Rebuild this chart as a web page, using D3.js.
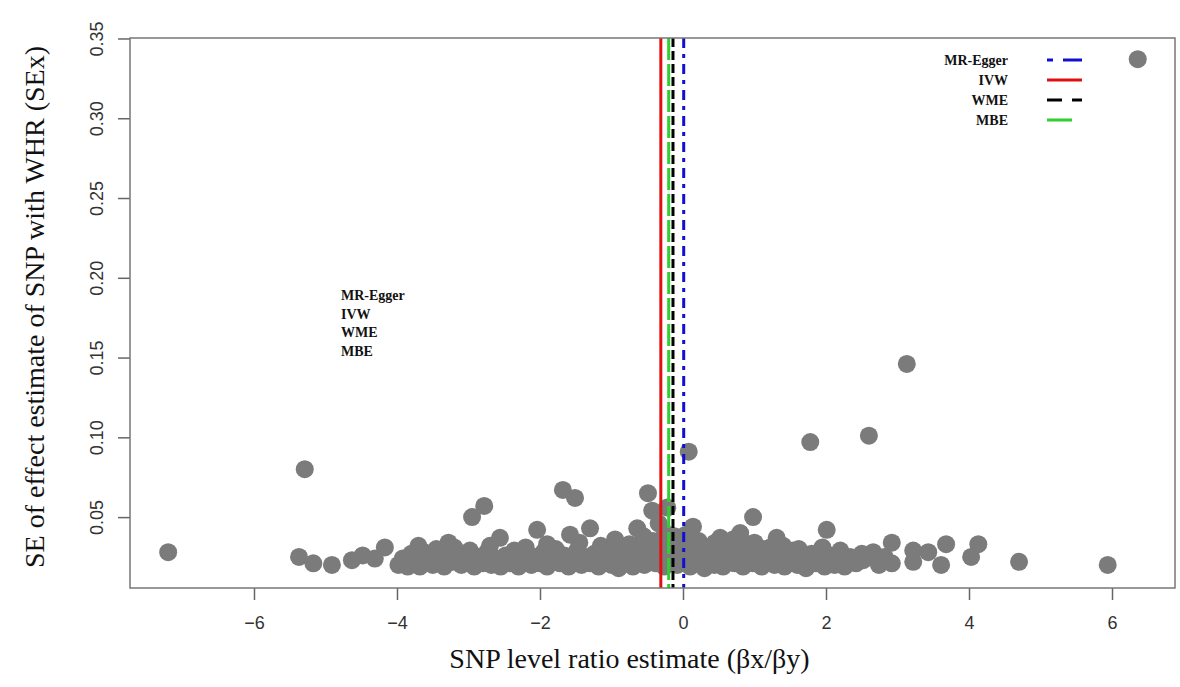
<!DOCTYPE html>
<html>
<head>
<meta charset="utf-8">
<script src="https://cdn.jsdelivr.net/npm/d3@7"></script>
<style>
  body { margin: 0; background: #fff; }
  svg { display: block; }
</style>
</head>
<body>
<div id="chart"></div>
<script>
// SNP level ratio estimates (x) and SE of effect estimate (y)
const snpPoints = [
  [-7.20, 0.028], [-5.29, 0.080], [-5.37, 0.025], [-5.17, 0.021], [-4.91, 0.020],
  [-4.63, 0.023], [-4.48, 0.026], [-4.31, 0.024], [-4.17, 0.031],
  [-3.98, 0.020], [-3.92, 0.024], [-3.85, 0.019], [-3.80, 0.027], [-3.74, 0.022],
  [-3.68, 0.019], [-3.62, 0.028], [-3.57, 0.023], [-3.50, 0.020], [-3.45, 0.030],
  [-3.40, 0.025], [-3.34, 0.019], [-3.28, 0.034], [-3.22, 0.022], [-3.16, 0.027],
  [-3.10, 0.020], [-3.04, 0.024], [-2.98, 0.029], [-2.95, 0.050], [-2.78, 0.057],
  [-2.92, 0.019], [-2.86, 0.025], [-2.80, 0.021], [-2.74, 0.028], [-2.68, 0.020],
  [-2.62, 0.024], [-2.56, 0.037], [-2.55, 0.019], [-2.48, 0.026], [-2.42, 0.021],
  [-2.36, 0.029], [-2.30, 0.019], [-2.24, 0.023], [-2.18, 0.027], [-2.12, 0.020],
  [-2.06, 0.025], [-2.04, 0.042], [-2.00, 0.021],
  [-1.95, 0.028], [-1.90, 0.019], [-1.84, 0.024], [-1.78, 0.030], [-1.72, 0.021],
  [-1.68, 0.067], [-1.66, 0.026], [-1.60, 0.019], [-1.58, 0.039], [-1.54, 0.023],
  [-1.51, 0.062], [-1.48, 0.029], [-1.42, 0.020], [-1.36, 0.025], [-1.30, 0.043],
  [-1.30, 0.021], [-1.24, 0.027], [-1.18, 0.019], [-1.12, 0.023], [-1.06, 0.030],
  [-1.00, 0.020],
  [-0.95, 0.025], [-0.90, 0.018], [-0.85, 0.028], [-0.80, 0.022], [-0.75, 0.033],
  [-0.70, 0.019], [-0.64, 0.043], [-0.62, 0.024], [-0.58, 0.030], [-0.54, 0.020],
  [-0.49, 0.065], [-0.48, 0.026], [-0.43, 0.054], [-0.42, 0.035], [-0.38, 0.021],
  [-0.34, 0.046], [-0.30, 0.027], [-0.26, 0.019], [-0.22, 0.056], [-0.20, 0.032],
  [-0.16, 0.024], [-0.12, 0.038], [-0.08, 0.020], [-0.04, 0.029],
  [0.02, 0.023], [0.06, 0.034], [0.08, 0.091], [0.10, 0.019], [0.14, 0.044],
  [0.16, 0.026], [0.20, 0.021], [0.25, 0.030], [0.30, 0.018], [0.34, 0.025],
  [0.40, 0.032], [0.44, 0.020], [0.50, 0.027], [0.52, 0.037], [0.56, 0.019],
  [0.62, 0.024], [0.66, 0.031], [0.72, 0.021], [0.76, 0.028], [0.80, 0.040],
  [0.84, 0.019], [0.88, 0.025], [0.92, 0.033], [0.98, 0.050], [0.98, 0.021],
  [1.04, 0.027], [1.10, 0.019], [1.16, 0.024], [1.22, 0.031], [1.28, 0.020],
  [1.31, 0.037], [1.36, 0.026], [1.42, 0.019], [1.48, 0.023], [1.54, 0.029],
  [1.60, 0.020], [1.66, 0.025], [1.72, 0.018], [1.78, 0.097], [1.80, 0.027],
  [1.86, 0.021], [1.92, 0.024], [1.98, 0.019], [2.01, 0.042],
  [2.06, 0.026], [2.12, 0.020], [2.18, 0.023], [2.26, 0.019], [2.34, 0.025],
  [2.42, 0.021], [2.52, 0.023], [2.60, 0.101], [2.66, 0.028], [2.74, 0.020],
  [2.82, 0.025], [2.92, 0.034], [2.92, 0.021],
  [3.13, 0.146], [3.22, 0.029], [3.22, 0.022], [3.43, 0.028], [3.61, 0.020],
  [3.68, 0.033], [4.03, 0.025], [4.13, 0.033], [4.70, 0.022], [5.94, 0.020],
  [6.36, 0.337],
  // extra points filling the thick band near the axis
  [-3.70, 0.032], [-3.20, 0.031], [-2.70, 0.032], [-2.20, 0.031], [-1.90, 0.033],
  [-1.45, 0.034], [-1.15, 0.032], [-0.95, 0.036], [-0.80, 0.030], [-0.55, 0.038],
  [-0.35, 0.031], [-0.25, 0.040], [-0.10, 0.033], [0.04, 0.039], [0.22, 0.035],
  [0.35, 0.031], [0.45, 0.034], [0.60, 0.033], [0.70, 0.036], [0.86, 0.031],
  [1.00, 0.034], [1.12, 0.030], [1.40, 0.032], [1.62, 0.030], [1.95, 0.031],
  [2.20, 0.029], [2.50, 0.027], [0.30, 0.022], [0.68, 0.022], [1.20, 0.022],
  [-0.65, 0.022], [-1.55, 0.021], [-2.45, 0.023], [-3.30, 0.022]
];

// causal estimates of each method (vertical lines)
const methods = ["MR-Egger", "IVW", "WME", "MBE"];
const methodEstimates = [0.01, -0.31, -0.14, -0.20];
const methodColors = ["#1010d0", "#e01010", "#000000", "#30d030"];
const methodDash = ["10,6,4,6", null, "9,4", "22,4"];
const legendDash = ["6,10,20", null, "15,10,10", null];

const xTicks = [-6, -4, -2, 0, 2, 4, 6];
const yTicks = [0.05, 0.10, 0.15, 0.20, 0.25, 0.30, 0.35];

const W = 1180, H = 687;
const margin = { top: 38, right: 5, bottom: 99, left: 130 };
const width = W - margin.left - margin.right;
const height = H - margin.top - margin.bottom;

const svg = d3.select("#chart").append("svg")
  .attr("width", W)
  .attr("height", H);

const g = svg.append("g")
  .attr("transform", "translate(" + margin.left + "," + margin.top + ")");

const xScale = d3.scaleLinear().domain([-7.734, 6.881]).range([0, width]);
const yScale = d3.scaleLinear().domain([0.00556, 0.3503]).range([height, 0]);

// axes
const xAxis = d3.axisBottom(xScale).tickValues(xTicks).tickSize(12).tickFormat(d3.format("d"));
const yAxis = d3.axisLeft(yScale).tickValues(yTicks).tickSize(12).tickFormat(d3.format(".2f"));

const gx = g.append("g")
  .attr("transform", "translate(0," + height + ")")
  .call(xAxis);
gx.select(".domain").remove();
gx.selectAll("line").attr("stroke", "#666").attr("stroke-width", 1.5);
gx.selectAll("text")
  .attr("y", 28)
  .attr("fill", "#333")
  .style("font-family", "Liberation Sans, Arial, sans-serif")
  .style("font-size", "18px");

const gy = g.append("g").call(yAxis);
gy.select(".domain").remove();
gy.selectAll("line").attr("stroke", "#666").attr("stroke-width", 1.5);
gy.selectAll("text")
  .attr("x", null).attr("dy", null)
  .attr("transform", "translate(-27,0) rotate(-90)")
  .attr("text-anchor", "middle")
  .attr("fill", "#333")
  .style("font-family", "Liberation Sans, Arial, sans-serif")
  .style("font-size", "18px");

// points
g.append("g")
  .selectAll("circle")
  .data(snpPoints)
  .enter()
  .append("circle")
  .attr("cx", (d) => xScale(d[0]))
  .attr("cy", (d) => yScale(d[1]))
  .attr("r", 9)
  .attr("fill", "#7b7b7b");

// method lines
g.append("g")
  .selectAll("line")
  .data(methods)
  .enter()
  .append("line")
  .attr("x1", (d, i) => xScale(methodEstimates[i]))
  .attr("x2", (d, i) => xScale(methodEstimates[i]))
  .attr("y1", 0)
  .attr("y2", height)
  .attr("stroke", (d, i) => methodColors[i])
  .attr("stroke-width", 3)
  .attr("stroke-dasharray", (d, i) => methodDash[i]);

// box
g.append("rect")
  .attr("width", width)
  .attr("height", height)
  .attr("fill", "none")
  .attr("stroke", "#777")
  .attr("stroke-width", 1.5);

// legend top right
const legend = svg.append("g").attr("transform", "translate(1008,60)");
methods.forEach((m, i) => {
  legend.append("text")
    .attr("x", 0)
    .attr("y", i * 20 + 5)
    .attr("text-anchor", "end")
    .style("font-family", "Liberation Serif, Times New Roman, serif")
    .style("font-weight", "bold")
    .style("font-size", "14px")
    .attr("fill", "#111")
    .text(m);
  legend.append("line")
    .attr("x1", 39)
    .attr("x2", i === 3 ? 64 : 74)
    .attr("y1", i * 20)
    .attr("y2", i * 20)
    .attr("stroke", methodColors[i])
    .attr("stroke-width", 3)
    .attr("stroke-dasharray", legendDash[i]);
});

// text block inside plot
const block = svg.append("g").attr("transform", "translate(341,300)");
methods.forEach((m, i) => {
  block.append("text")
    .attr("x", 0)
    .attr("y", i * 18.5)
    .style("font-family", "Liberation Serif, Times New Roman, serif")
    .style("font-weight", "bold")
    .style("font-size", "14px")
    .attr("fill", "#111")
    .text(m);
});

// axis titles
svg.append("text")
  .attr("x", margin.left + width / 2 - 23)
  .attr("y", 668)
  .attr("text-anchor", "middle")
  .style("font-family", "Liberation Serif, Times New Roman, serif")
  .style("font-size", "28px")
  .attr("fill", "#111")
  .text("SNP level ratio estimate (βx/βy)");

svg.append("text")
  .attr("transform", "translate(44," + (margin.top + height / 2 - 6) + ") rotate(-90)")
  .attr("text-anchor", "middle")
  .style("font-family", "Liberation Serif, Times New Roman, serif")
  .style("font-size", "28px")
  .attr("fill", "#111")
  .text("SE of effect estimate of SNP with WHR (SEx)");
</script>
</body>
</html>
